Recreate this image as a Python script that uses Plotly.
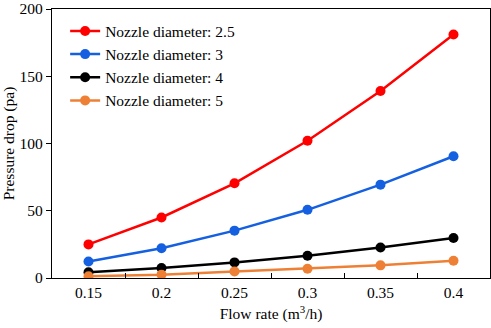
import plotly.graph_objects as go

flow_rate = ["0.15", "0.2", "0.25", "0.3", "0.35", "0.4"]
d25 = [25.0, 45.0, 70.4, 102.0, 139.0, 181.0]
d3 = [12.3, 22.1, 35.2, 50.7, 69.4, 90.5]
d4 = [4.2, 7.4, 11.6, 16.5, 22.7, 29.8]
d5 = [1.3, 2.5, 4.9, 6.9, 9.4, 12.8]

series = [
    ("Nozzle diameter: 2.5", d25, "#FF0000"),
    ("Nozzle diameter: 3", d3, "#1560E0"),
    ("Nozzle diameter: 4", d4, "#000000"),
    ("Nozzle diameter: 5", d5, "#EE8035"),
]

fig = go.Figure()
for name, vals, col in series:
    fig.add_trace(go.Scatter(
        x=flow_rate, y=vals, name=name, mode="lines+markers",
        line=dict(color=col, width=2.5),
        marker=dict(color=col, size=10),
    ))

fam = "Liberation Serif, Times New Roman, serif"
font = dict(family=fam, size=15.5, color="#000000")
legfont = dict(family=fam, size=15.5, color="#000000")
fig.update_layout(
    width=491, height=328,
    margin=dict(l=52, r=1, t=9, b=50),
    paper_bgcolor="white", plot_bgcolor="white",
    font=font,
    showlegend=True,
    legend=dict(x=0.03, y=0.98, xanchor="left", yanchor="top",
                bgcolor="rgba(0,0,0,0)", font=legfont, tracegroupgap=0,
                itemwidth=30),
    xaxis=dict(
        type="category", tickson="boundaries", ticks="inside", ticklen=5,
        tickcolor="#000", showline=True, linecolor="#000", linewidth=1.2,
        mirror=True, showgrid=False, zeroline=False,
        range=[-0.5, 5.5], automargin=False,
        title=dict(text="Flow rate (m<sup>3</sup>/h)", font=font, standoff=8),
    ),
    yaxis=dict(
        range=[0, 200], tickvals=[0, 50, 100, 150, 200], ticks="outside",
        ticklen=5, tickcolor="#000", showline=True, linecolor="#000",
        linewidth=1.2, mirror=True, showgrid=False, zeroline=False,
        automargin=False, ticklabeloverflow="allow",
        title=dict(text="Pressure drop (pa)", font=font, standoff=6),
    ),
)

fig.write_html("out.html", config={"displayModeBar": False},
               post_script="document.body.style.margin='0';document.body.style.overflow='hidden';")
